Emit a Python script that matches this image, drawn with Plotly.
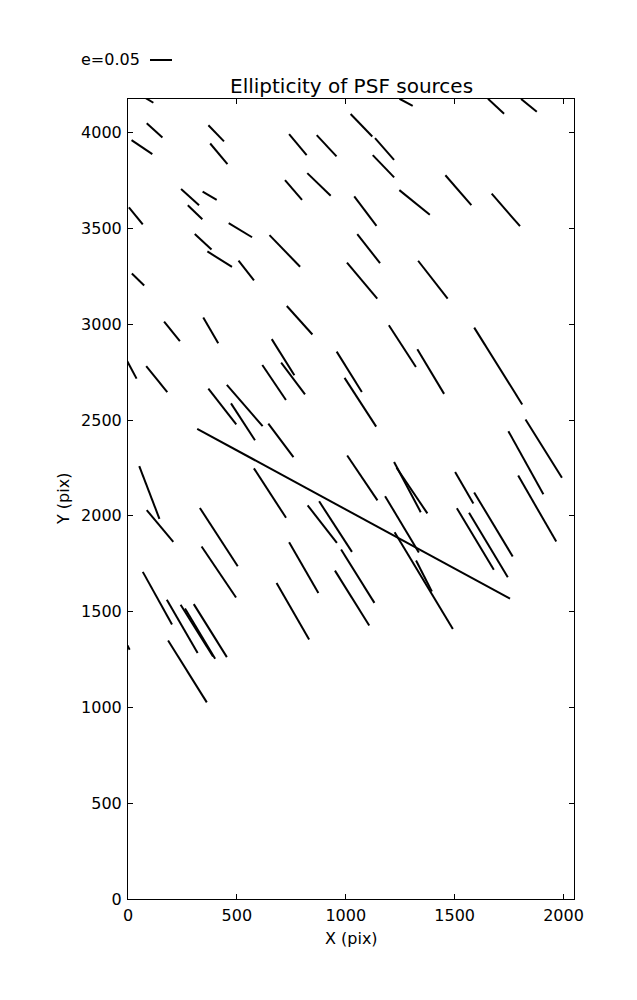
import math
import plotly.graph_objects as go

# ---- data: source centre (pix), ellipticity, position angle (deg, display frame) ----
x_pos = [122, 64, 405, 417, 780, 912, 285, 375, 308, 36, 760, 877, 516, 345, 421, 543, 720, 46, 202, 380,
         788, 88, 1277, 1690, 1841, 1072, 1178, 1173, 1517, 1735, 1316, 1090, 1105, 1075, 1400, 1260, 1390,
         1700, 1016, 18, 132, 671, 712, 758, 433, 536, 528, 702, 1036, 652, 98, 147, 417, 417, 892, 953,
         1055, 1029, 807, 135, 249, 316, 331, 378, 757, 273, -9, 1067, 1076, 1283, 1304, 1544, 1678, 1827,
         1909, 1879, 1595, 1655, 1258, 1358, 1359]
y_pos = [4012, 3925, 3997, 3890, 3938, 3932, 3664, 3671, 3585, 3566, 3701, 3730, 3491, 3431, 3340, 3281,
         3383, 3234, 2963, 2968, 3021, 4176, 4159, 4138, 4143, 4039, 3915, 3825, 3700, 3597, 3636, 3591,
         3395, 3228, 3233, 2886, 2753, 2782, 2752, 2762, 2714, 2696, 2828, 2717, 2571, 2576, 2491, 2394,
         2011, 2119, 2122, 1947, 1889, 1707, 1957, 1944, 1685, 1571, 1730, 1570, 1423, 1401, 1385, 1401,
         1502, 1188, 1338, 2593, 2198, 2150, 2132, 2147, 1955, 2277, 2351, 2038, 1879, 1848, 1956, 1662,
         1686]
ellip = [0.048, 0.057, 0.051, 0.061, 0.062, 0.066, 0.055, 0.037, 0.046, 0.050, 0.059, 0.074, 0.062, 0.052,
         0.066, 0.057, 0.100, 0.039, 0.057, 0.068, 0.087, 0.033, 0.034, 0.050, 0.046, 0.071, 0.066, 0.070,
         0.090, 0.098, 0.089, 0.084, 0.084, 0.107, 0.109, 0.113, 0.118, 0.206, 0.108, 0.045, 0.076, 0.096,
         0.097, 0.090, 0.103, 0.124, 0.100, 0.095, 0.809, 0.134, 0.128, 0.094, 0.158, 0.140, 0.108, 0.137,
         0.143, 0.147, 0.133, 0.137, 0.140, 0.139, 0.133, 0.142, 0.148, 0.166, 0.036, 0.132, 0.123, 0.129,
         0.125, 0.083, 0.170, 0.164, 0.156, 0.173, 0.163, 0.171, 0.149, 0.257, 0.079]
angle = [-42, -34, -46, -50, -50, -47, -42, -30, -44, -51, -49, -44, -31, -43, -32, -52, -46, -44, -51, -60,
         -48, -31, -28, -43, -39, -46, -49, -46, -49, -49, -39, -53, -52, -50, -52, -57, -59, -58, -58, -62,
         -51, -56, -58, -53, -52, -49, -57, -53, -28.5, -57, -69, -50, -57, -56, -52, -57, -58, -58, -60,
         -61, -60, -58, -59, -58, -60, -58, -63, -57, -56, -62, -56, -60, -59, -61, -58, -60, -59, -59,
         -59, -59, -63]

ref_e = 0.05
ref_label = "e=0.05"
x_ticks = [0, 500, 1000, 1500, 2000]
y_ticks = [0, 500, 1000, 1500, 2000, 2500, 3000, 3500, 4000]
x_lim = [0, 2048]
y_lim = [0, 4176]

# ---- layout geometry (page px; the html body has an 8 px margin) ----
OFF = 8
PAGE_W, PAGE_H = 637, 1000
P_LEFT, P_RIGHT, P_TOP, P_BOTTOM = 128, 574, 99, 899
W, H = PAGE_W - OFF, PAGE_H - OFF
ML, MT = P_LEFT - OFF, P_TOP - OFF
MR, MB = PAGE_W - OFF - (P_RIGHT - OFF) - OFF, PAGE_H - P_BOTTOM - OFF
PW, PH = P_RIGHT - P_LEFT, P_BOTTOM - P_TOP
MR = W - ML - PW
MB = H - MT - PH
sx = PW / (x_lim[1] - x_lim[0])
sy = PH / (y_lim[1] - y_lim[0])
PX_PER_E = 22 / ref_e  # whisker length in screen px per unit ellipticity

xs, ys = [], []
for xc, yc, e, th in zip(x_pos, y_pos, ellip, angle):
    L = e * PX_PER_E
    t = math.radians(th)
    hx = 0.5 * L * math.cos(t) / sx
    hy = 0.5 * L * math.sin(t) / sy
    xs += [xc - hx, xc + hx, None]
    ys += [yc - hy, yc + hy, None]

FONT = "DejaVu Sans"
fig = go.Figure()
fig.add_trace(go.Scatter(x=xs, y=ys, mode="lines",
                         line=dict(color="black", width=2),
                         hoverinfo="skip", showlegend=False))

axis_common = dict(showgrid=False, zeroline=False, showline=True, linecolor="black",
                   linewidth=1, mirror="ticks", ticks="inside", ticklen=5, tickwidth=1,
                   tickcolor="black", tickfont=dict(family=FONT, size=16, color="black"))
fig.update_xaxes(range=x_lim, tickvals=x_ticks, ticktext=[str(v) for v in x_ticks],
                 ticklabelstandoff=2, **axis_common)
fig.update_yaxes(range=y_lim, tickvals=y_ticks, ticktext=[str(v) for v in y_ticks],
                 ticklabelstandoff=2, **axis_common)

# reference whisker (legend) above the axes
leg_y = (P_BOTTOM - 60) / PH
leg_x0 = (150 - P_LEFT) / PW
leg_x1 = leg_x0 + ref_e * PX_PER_E / PW
fig.add_shape(type="line", xref="paper", yref="paper", x0=leg_x0, x1=leg_x1, y0=leg_y, y1=leg_y,
              line=dict(color="black", width=2))
annotations = [
    dict(text=ref_label, xref="paper", yref="paper", x=(142 - P_LEFT) / PW, y=leg_y,
         xanchor="right", yanchor="middle", showarrow=False,
         font=dict(family=FONT, size=16, color="black")),
    dict(text="X (pix)", xref="paper", yref="paper", x=0.5, y=0, yshift=-39,
         xanchor="center", yanchor="middle", showarrow=False,
         font=dict(family=FONT, size=16, color="black")),
    dict(text="Y (pix)", xref="paper", yref="paper", x=0, y=0.5, xshift=-65, textangle=-90,
         xanchor="center", yanchor="middle", showarrow=False,
         font=dict(family=FONT, size=16, color="black")),
    dict(text="Ellipticity of PSF sources", xref="paper", yref="paper", x=0.5, y=1, yshift=13,
         xanchor="center", yanchor="middle", showarrow=False,
         font=dict(family=FONT, size=20, color="black")),
]
fig.update_layout(width=W, height=H, margin=dict(l=ML, r=MR, t=MT, b=MB, autoexpand=False),
                  plot_bgcolor="white", paper_bgcolor="white", annotations=annotations,
                  showlegend=False)
fig.write_html("out.html")
